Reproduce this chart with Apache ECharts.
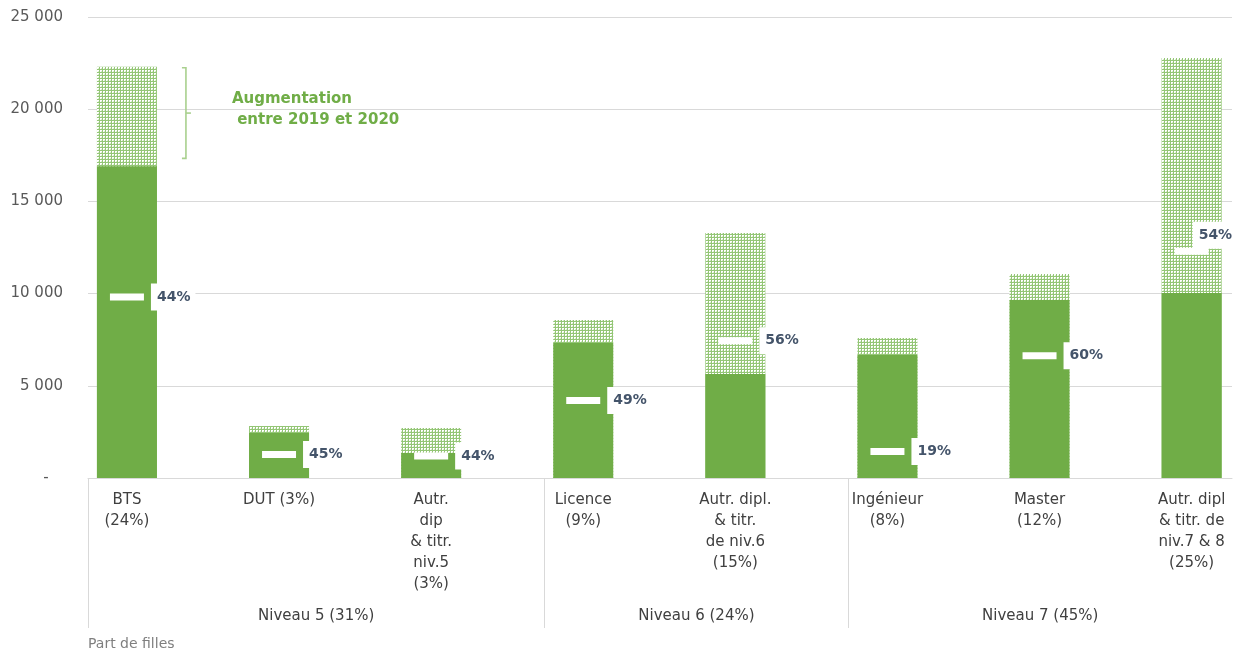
<!DOCTYPE html>
<html lang="fr">
<head>
<meta charset="UTF-8">
<title>Part de filles</title>
<script src="https://cdn.jsdelivr.net/npm/echarts@6/dist/echarts.min.js"></script>
</head>
<body style="margin:0; background:#fff">
<div id="container" style="width:1236px; height:652px"></div>
<script type="text/javascript">
// données
var categories = ['BTS\n(24%)', 'DUT (3%)', 'Autr.\ndip\n& titr.\nniv.5\n(3%)', 'Licence\n(9%)',
    'Autr. dipl.\n& titr.\nde niv.6\n(15%)', 'Ingénieur\n(8%)', 'Master\n(12%)', 'Autr. dipl\n& titr. de\nniv.7 & 8\n(25%)'];
var effectifs2019 = [16900, 2440, 1360, 7320, 5640, 6670, 9650, 10030];
var effectifs2020 = [22300, 2820, 2710, 8570, 13290, 7590, 11060, 22780];
var partFilles = [44, 45, 44, 49, 56, 19, 60, 54];
var niveaux = ['Niveau 5 (31%)', 'Niveau 6 (24%)', 'Niveau 7 (45%)'];
var niveauDebut = [0, 3, 5]; // index de la 1re catégorie de chaque niveau
var yTicks = [0, 5000, 10000, 15000, 20000, 25000];

var FONT = 'DejaVu Sans';
var SHIFT = 0.256;            // décalage des séparateurs de niveau (style Excel)
var XMIN = -SHIFT;
var XMAX = XMIN + 1144 / 152.1;

var bornes = niveauDebut.map(function (d) { return d - SHIFT; });
var centresNiveaux = bornes.map(function (b, i) {
    var fin = i < bornes.length - 1 ? bornes[i + 1] : XMAX;
    return (b + fin) / 2;
});

function motif() {
    var c = document.createElement('canvas');
    c.width = 3; c.height = 3;
    var g = c.getContext('2d');
    g.fillStyle = '#94C676';
    g.fillRect(0, 0, 3, 3);
    g.fillStyle = '#ffffff';
    g.fillRect(1, 1, 2, 2);
    g.fillStyle = '#D6EAC8';
    g.fillRect(2, 2, 1, 1);
    return c;
}

var dom = document.getElementById('container');
var myChart = echarts.init(dom);

var total = [], base = [], marqueurs = [];
for (var i = 0; i < categories.length; i++) {
    total.push([i, effectifs2020[i]]);
    base.push([i, effectifs2019[i]]);
    var item = {value: [i, effectifs2020[i] * partFilles[i] / 100], part: partFilles[i]};
    if (i === categories.length - 1) {
        item.label = {offset: [-23, -16]};
    }
    marqueurs.push(item);
}

var option = {
    backgroundColor: '#ffffff',
    animation: false,
    title: {
        text: 'Part de filles',
        left: 83, top: 632,
        textStyle: {color: '#7F7F7F', fontSize: 14, fontWeight: 'normal', fontFamily: FONT}
    },
    grid: {left: 88, right: 4, top: 17, bottom: 174, outerBoundsMode: 'none'},
    xAxis: [{
        type: 'value',
        min: XMIN, max: XMAX,
        position: 'bottom',
        splitLine: {show: false},
        axisLine: {show: true, onZero: false, lineStyle: {color: '#D9D9D9'}},
        axisTick: {show: true, customValues: bornes, length: 150, lineStyle: {color: '#D9D9D9'}},
        axisLabel: {
            customValues: categories.map(function (c, i) { return i; }),
            formatter: function (v) { return categories[Math.round(v)]; },
            color: '#404040', fontSize: 15, lineHeight: 21, margin: 12, fontFamily: FONT
        }
    }, {
        type: 'value',
        min: XMIN, max: XMAX,
        position: 'bottom',
        splitLine: {show: false},
        axisLine: {show: false},
        axisTick: {show: false},
        axisLabel: {
            customValues: centresNiveaux,
            formatter: function (v) {
                var k = 0;
                centresNiveaux.forEach(function (c, j) { if (Math.abs(c - v) < 1e-6) k = j; });
                return niveaux[k];
            },
            color: '#404040', fontSize: 15, lineHeight: 21, margin: 128, fontFamily: FONT
        }
    }],
    yAxis: {
        type: 'value',
        min: yTicks[0], max: yTicks[yTicks.length - 1], interval: 5000,
        axisLine: {show: false},
        axisTick: {show: false},
        splitLine: {lineStyle: {color: '#D9D9D9'}},
        axisLabel: {
            formatter: function (v) { return v === 0 ? '-   ' : (v / 1000) + ' 000'; },
            color: '#595959', fontSize: 15, margin: 25, fontFamily: FONT
        }
    },
    series: [{
        name: 'Effectifs 2020',
        type: 'bar',
        barWidth: 60,
        barGap: '-100%',
        data: total,
        itemStyle: {color: {image: motif(), repeat: 'repeat'}}
    }, {
        name: 'Effectifs 2019',
        type: 'bar',
        barWidth: 60,
        barGap: '-100%',
        data: base,
        itemStyle: {color: '#70AD47'}
    }, {
        name: 'Part de filles',
        type: 'scatter',
        symbol: 'rect',
        symbolSize: [34, 7],
        z: 5,
        data: marqueurs,
        itemStyle: {color: '#ffffff', opacity: 1},
        label: {
            show: true,
            position: 'right',
            distance: 7,
            formatter: function (p) { return p.data.part + '%'; },
            backgroundColor: '#ffffff',
            padding: [6, 5, 6, 6],
            lineHeight: 15,
            color: '#44546A', fontSize: 14, fontWeight: 'bold', fontFamily: FONT
        }
    }]
};

myChart.setOption(option);

// accolade "Augmentation entre 2019 et 2020" à côté du BTS
var pHaut = myChart.convertToPixel({xAxisIndex: 0, yAxisIndex: 0}, [0, effectifs2020[0]]);
var pBas = myChart.convertToPixel({xAxisIndex: 0, yAxisIndex: 0}, [0, effectifs2019[0]]);
var bx = pHaut[0] + 55, yh = pHaut[1] + 1, yb = pBas[1] - 8, ym = (yh + yb) / 2;
myChart.setOption({
    graphic: [{
        type: 'polyline',
        shape: {points: [[bx, yh], [bx + 4, yh], [bx + 4, yb], [bx, yb]]},
        style: {stroke: '#A9D08E', lineWidth: 1.6, fill: null}
    }, {
        type: 'line',
        shape: {x1: bx + 4, y1: ym, x2: bx + 9, y2: ym},
        style: {stroke: '#A9D08E', lineWidth: 1.6}
    }, {
        type: 'text',
        x: bx + 50, y: ym - 3,
        style: {
            text: 'Augmentation\n entre 2019 et 2020',
            fill: '#70AD47', font: 'bold 15px "DejaVu Sans"',
            lineHeight: 21, verticalAlign: 'middle'
        }
    }]
});
</script>
</body>
</html>
